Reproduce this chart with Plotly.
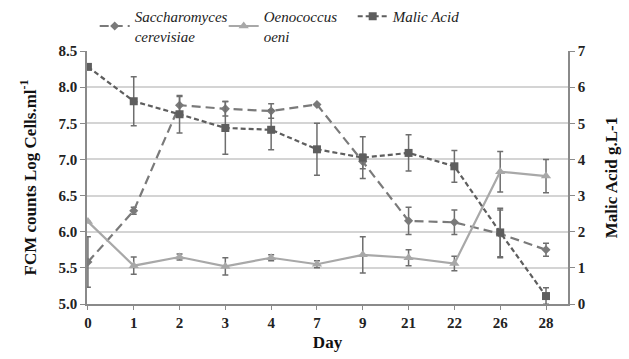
import plotly.graph_objects as go

# Sampling days (categorical x axis)
days = ["0", "1", "2", "3", "4", "7", "9", "21", "22", "26", "28"]

# Saccharomyces cerevisiae, FCM counts (log cells/ml)
sacch = [5.58, 6.29, 7.75, 7.70, 7.67, 7.76, 6.97, 6.15, 6.13, 5.97, 5.75]
sacch_err = [0.35, 0.05, 0.12, 0.10, 0.10, 0.0, 0.10, 0.19, 0.17, 0.33, 0.09]

# Oenococcus oeni, FCM counts (log cells/ml)
oeni = [6.14, 5.53, 5.65, 5.52, 5.64, 5.55, 5.68, 5.64, 5.56, 6.83, 6.77]
oeni_err = [0.0, 0.12, 0.04, 0.12, 0.04, 0.05, 0.25, 0.11, 0.10, 0.28, 0.23]

# Malic acid (g/L), secondary axis
malic = [6.56, 5.61, 5.25, 4.87, 4.82, 4.28, 4.05, 4.18, 3.81, 1.98, 0.22]
malic_err = [0.0, 0.68, 0.52, 0.73, 0.55, 0.72, 0.58, 0.50, 0.44, 0.67, 0.23]

left_ticks = [5.0, 5.5, 6.0, 6.5, 7.0, 7.5, 8.0, 8.5]
right_ticks = [0, 1, 2, 3, 4, 5, 6, 7]

SERIF = "Liberation Serif, serif"
ERR_COLOR = "#6e6e6e"

fig = go.Figure()

fig.add_trace(go.Scatter(
    x=days, y=sacch, name="Saccharomyces<br>cerevisiae",
    mode="lines+markers",
    line=dict(color="#7a7a7a", width=2.2, dash="9px,5px"),
    marker=dict(symbol="diamond", size=7, color="#7a7a7a"),
    error_y=dict(type="data", array=sacch_err, color=ERR_COLOR, thickness=1.5, width=3),
))

fig.add_trace(go.Scatter(
    x=days, y=oeni, name="Oenococcus<br>oeni",
    mode="lines+markers",
    line=dict(color="#a8a8a8", width=2.2),
    marker=dict(symbol="triangle-up", size=9, color="#a8a8a8"),
    error_y=dict(type="data", array=oeni_err, color=ERR_COLOR, thickness=1.5, width=3),
))

fig.add_trace(go.Scatter(
    x=days, y=malic, name="Malic Acid", yaxis="y2",
    mode="lines+markers",
    line=dict(color="#5e5e5e", width=2.2, dash="5px,3px"),
    marker=dict(symbol="square", size=8, color="#5e5e5e"),
    error_y=dict(type="data", array=malic_err, color=ERR_COLOR, thickness=1.5, width=3),
))

tick_font = dict(family=SERIF, size=15, color="#222222")
title_font = dict(family=SERIF, size=17, color="#111111")

fig.update_layout(
    width=629, height=359,
    margin=dict(l=87, r=61, t=51, b=55, autoexpand=False),
    paper_bgcolor="white", plot_bgcolor="white",
    showlegend=True,
    legend=dict(
        orientation="h", x=0.016, xanchor="left",
        yref="container", y=1.0, yanchor="top",
        font=dict(family=SERIF, size=15, color="#222222", style="italic"),
        bgcolor="rgba(0,0,0,0)", itemwidth=30, entrywidth=84, tracegroupgap=0,
    ),
    xaxis=dict(
        type="category", range=[-0.02, 10.48],
        tickvals=days, ticktext=["<b>%s</b>" % d for d in days],
        tickfont=tick_font,
        title=dict(text="<b>Day</b>", font=title_font, standoff=6),
        showgrid=False, showline=True, linecolor="#8a8a8a", linewidth=1.5,
        ticks="outside", ticklen=4, tickcolor="#8a8a8a",
        zeroline=False,
    ),
    yaxis=dict(
        range=[5.0, 8.5], tickvals=left_ticks,
        ticktext=["<b>%.1f</b>" % v for v in left_ticks],
        tickfont=tick_font,
        title=dict(text="<b>FCM counts Log Cells.ml<sup>-1</sup></b>", font=title_font, standoff=18),
        showgrid=True, gridcolor="#d4d4d4", gridwidth=1.5,
        showline=True, linecolor="#8a8a8a", linewidth=1.5,
        ticks="outside", ticklen=5, tickcolor="#8a8a8a",
        zeroline=False,
    ),
    yaxis2=dict(
        range=[0, 7], tickvals=right_ticks,
        ticktext=["<b>%d</b>" % v for v in right_ticks],
        tickfont=tick_font,
        title=dict(text="<b>Malic Acid g.L-1</b>", font=title_font, standoff=20),
        overlaying="y", side="right",
        showgrid=False, showline=True, linecolor="#8a8a8a", linewidth=1.5,
        ticks="outside", ticklen=5, tickcolor="#8a8a8a",
        zeroline=False,
    ),
)

fig.write_html("out.html")
